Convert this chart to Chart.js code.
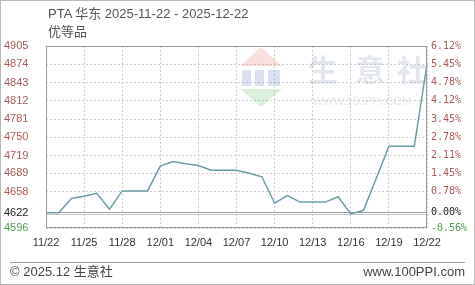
<!DOCTYPE html>
<html>
<head>
<meta charset="utf-8">
<script src="https://cdn.jsdelivr.net/npm/chart.js@4/dist/chart.umd.min.js"></script>
<style>
  html, body { margin: 0; padding: 0; background: #fff; }
  #wrap { position: relative; width: 475px; height: 285px; overflow: hidden; box-sizing: border-box; }
  #frame { position: absolute; left: 0; top: 0; width: 475px; height: 285px; box-sizing: border-box; border: 1px solid #b8b8b8; pointer-events: none; }
  canvas { position: absolute; left: 0; top: 0; }
  .t { position: absolute; font-family: "Liberation Sans", "Noto Sans CJK SC", sans-serif; font-size: 13px; color: #555; line-height: 18px; white-space: nowrap; }
  #hr { position: absolute; left: 10px; top: 262px; width: 455px; height: 1px; background: #a0a0a0; }
</style>
</head>
<body>
<div id="wrap">
  <canvas id="c" width="475" height="285"></canvas>
  <div class="t" style="left:48px; top:5px;">PTA 华东 2025-11-22 - 2025-12-22<br>优等品</div>
  <div id="hr"></div>
  <div class="t" style="left:10px; top:263px; color:#444;">© 2025.12 生意社</div>
  <div class="t" style="right:10px; top:263px; color:#444;">www.100PPI.com</div>
  <div id="frame"></div>
</div>
<script>
const dates = ['11/22','11/23','11/24','11/25','11/26','11/27','11/28','11/29','11/30',
  '12/01','12/02','12/03','12/04','12/05','12/06','12/07','12/08','12/09','12/10',
  '12/11','12/12','12/13','12/14','12/15','12/16','12/17','12/18','12/19','12/20','12/21','12/22'];
const prices = [4622,4622,4646,4650,4655,4628,4659,4659,4659,
  4701,4709,4705,4702,4694,4694,4694,4689,4683,4638,
  4651,4640,4640,4640,4649,4620,4626,4680,4735,4735,4735,4874];
const baseValue = 4622;
const leftTicks = [4596,4622,4658,4689,4719,4750,4781,4812,4843,4874,4905];
const rightTickLabels = ['-0.56%','0.00%','0.78%','1.45%','2.11%','2.78%','3.45%','4.12%','4.78%','5.45%','6.12%'];
const yMin = 4596, yMax = 4905;

function tickColor(v) {
  if (v > baseValue) return '#a85a5a';
  if (v < baseValue) return '#4f9a4f';
  return '#222';
}

const overlay = {
  id: 'overlay',
  beforeDatasetsDraw(chart) {
    const {ctx, chartArea: a, scales} = chart;
    ctx.save();
    // watermark logo
    ctx.globalAlpha = 0.22;
    ctx.fillStyle = '#e07060';
    ctx.beginPath(); ctx.moveTo(261, 47); ctx.lineTo(282, 66); ctx.lineTo(240, 66); ctx.closePath(); ctx.fill();
    ctx.fillStyle = '#5a78c0';
    ctx.fillRect(242, 70, 9, 16); ctx.fillRect(255, 70, 9, 16); ctx.fillRect(268, 70, 12, 16);
    ctx.fillStyle = '#60b060';
    ctx.beginPath(); ctx.moveTo(240, 89); ctx.lineTo(282, 89); ctx.lineTo(261, 107); ctx.closePath(); ctx.fill();
    ctx.globalAlpha = 1;
    ctx.fillStyle = 'rgba(150,165,190,0.28)';
    ctx.font = 'bold 30px "Noto Sans CJK SC", sans-serif';
    ctx.textBaseline = 'middle'; ctx.textAlign = 'center';
    ctx.fillText('生', 323, 70); ctx.fillText('意', 370, 70); ctx.fillText('社', 412, 70);
    ctx.font = '11px "Liberation Sans", sans-serif';
    ctx.fillStyle = 'rgba(150,150,150,0.25)';
    ctx.fillText('WWW.100PPI.COM', 362, 102);
    // base line
    const yb = scales.y.getPixelForValue(baseValue);
    ctx.strokeStyle = '#9a9a9a';
    ctx.lineWidth = 1;
    ctx.beginPath(); ctx.moveTo(a.left, Math.round(yb) - 0.5); ctx.lineTo(a.right, Math.round(yb) - 0.5); ctx.stroke();
    ctx.strokeStyle = '#c8c8c8';
    ctx.beginPath(); ctx.moveTo(a.left, Math.round(yb) + 1.5); ctx.lineTo(a.right, Math.round(yb) + 1.5); ctx.stroke();
    ctx.restore();
  },
  afterDraw(chart) {
    const {ctx, chartArea: a} = chart;
    ctx.save();
    ctx.strokeStyle = '#9a9a9a';
    ctx.lineWidth = 1;
    ctx.strokeRect(Math.round(a.left) + 0.5, Math.round(a.top) + 0.5, Math.round(a.right - a.left) - 1, Math.round(a.bottom - a.top) - 1);
    ctx.restore();
  }
};

new Chart(document.getElementById('c'), {
  type: 'line',
  data: {
    labels: dates,
    datasets: [{
      data: prices,
      borderColor: '#6a9ea6',
      borderWidth: 1.5,
      pointRadius: 0,
      tension: 0,
      fill: false
    }]
  },
  options: {
    responsive: false,
    animation: false,
    events: [],
    layout: { padding: { left: 4, top: 46, right: 0, bottom: 0 } },
    plugins: { legend: { display: false }, tooltip: { enabled: false }, title: { display: false } },
    scales: {
      x: {
        type: 'category',
        offset: false,
        afterFit(s) { s.height = 57; },
        grid: {
          drawTicks: false,
          color: ctx => (ctx.index % 3 === 0 ? '#cfcfcf' : 'rgba(0,0,0,0)'),
          lineWidth: 1
        },
        border: { display: false, dash: [2, 2] },
        ticks: {
          autoSkip: false,
          maxRotation: 0,
          padding: 8,
          color: '#333',
          font: { family: '"Liberation Sans", sans-serif', size: 11 },
          callback: (v, i) => (i % 3 === 0 ? dates[i] : '')
        }
      },
      y: {
        position: 'left',
        min: yMin, max: yMax,
        afterFit(s) { s.width = 42; },
        afterBuildTicks(s) { s.ticks = leftTicks.map(v => ({ value: v })); },
        grid: {
          drawTicks: false,
          color: ctx => (ctx.tick && ctx.tick.value === baseValue ? 'rgba(0,0,0,0)' : '#cfcfcf'),
          lineWidth: 1
        },
        border: { display: false, dash: [2, 2] },
        ticks: {
          crossAlign: 'far',
          padding: 0,
          color: ctx => tickColor(ctx.tick.value),
          font: { family: '"Liberation Sans", sans-serif', size: 11 },
          callback: v => String(v)
        }
      },
      y2: {
        position: 'right',
        min: yMin, max: yMax,
        afterFit(s) { s.width = 48; },
        afterBuildTicks(s) { s.ticks = leftTicks.map(v => ({ value: v })); },
        grid: { display: false, drawTicks: false },
        border: { display: false },
        ticks: {
          crossAlign: 'near',
          padding: 4,
          color: ctx => tickColor(ctx.tick.value),
          font: { family: '"DejaVu Sans Mono", monospace', size: 10 },
          callback: (v, i) => rightTickLabels[i]
        }
      }
    }
  },
  plugins: [overlay]
});
</script>
</body>
</html>
